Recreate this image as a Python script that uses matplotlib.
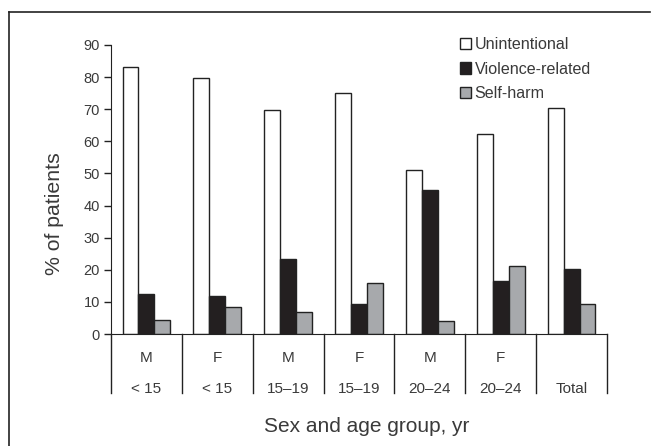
import numpy as np
import matplotlib
matplotlib.use("Agg")
import matplotlib.pyplot as plt
from matplotlib.lines import Line2D

plt.rcParams["font.family"] = ["Liberation Sans", "DejaVu Sans"]

sexes = ["M", "F", "M", "F", "M", "F", ""]
ages = ["< 15", "< 15", "15\u201319", "15\u201319", "20\u201324", "20\u201324", "Total"]
unintentional = [83.0, 79.6, 69.7, 75.0, 51.0, 62.2, 70.5]
violence = [12.5, 11.8, 23.4, 9.4, 45.0, 16.6, 20.3]
self_harm = [4.5, 8.3, 6.8, 15.8, 4.1, 21.1, 9.3]

txt = "#3a3a3a"
fig = plt.figure(figsize=(6.53, 4.46), dpi=100)
ax = fig.add_axes([111 / 653, 1 - 334 / 446, (607 - 111) / 653, (334 - 45) / 446])

x = np.arange(len(ages))
w = 0.225
ax.bar(x - w, unintentional, w, color="white", edgecolor="#222", linewidth=1, label="Unintentional")
ax.bar(x, violence, w, color="#231f20", edgecolor="#222", linewidth=1, label="Violence-related")
ax.bar(x + w, self_harm, w, color="#a7a9ac", edgecolor="#222", linewidth=1, label="Self-harm")

ax.set_xlim(-0.5, len(ages) - 0.5)
ax.set_ylim(0, 90)
ax.set_yticks(range(0, 91, 10))
ax.tick_params(axis="y", direction="out", length=5, width=1, colors="#222",
               labelcolor=txt, labelsize=10.5, pad=3)
ax.set_xticks([])
for s in ["top", "right"]:
    ax.spines[s].set_visible(False)
ax.spines["left"].set_color("#222")
ax.spines["bottom"].set_color("#222")

# category table below the axis
for b in np.arange(-0.5, len(ages)):
    ax.plot([b, b], [0, -18.5], color="#222", lw=1, clip_on=False)
for i in x:
    ax.text(i, -7.4, sexes[i], ha="center", va="center", fontsize=11, color=txt)
    ax.text(i, -17.2, ages[i], ha="center", va="center", fontsize=11, color=txt)

fig.text(55 / 653, 1 - 214 / 446, "% of patients", rotation=90, ha="center", va="center",
         fontsize=15.3, color=txt)
fig.text(367 / 653, 1 - 427 / 446, "Sex and age group, yr", ha="center", va="center",
         fontsize=15, color=txt)

ax.legend(loc="upper left", bbox_to_anchor=(460 / 653, 1 - 37 / 446),
          bbox_transform=fig.transFigure, frameon=False, fontsize=11.6,
          handlelength=0.7, handleheight=0.7, handletextpad=0.2,
          labelspacing=0.6, borderaxespad=0, borderpad=0, labelcolor=txt)

# figure frame (top and left only, as in the cropped original)
fig.add_artist(Line2D([9 / 653, 650 / 653], [1 - 12 / 446] * 2, color="#222", lw=1.2))
fig.add_artist(Line2D([9 / 653] * 2, [1 - 12 / 446, 0], color="#222", lw=1.2))

fig.savefig("out.png", dpi=100)
